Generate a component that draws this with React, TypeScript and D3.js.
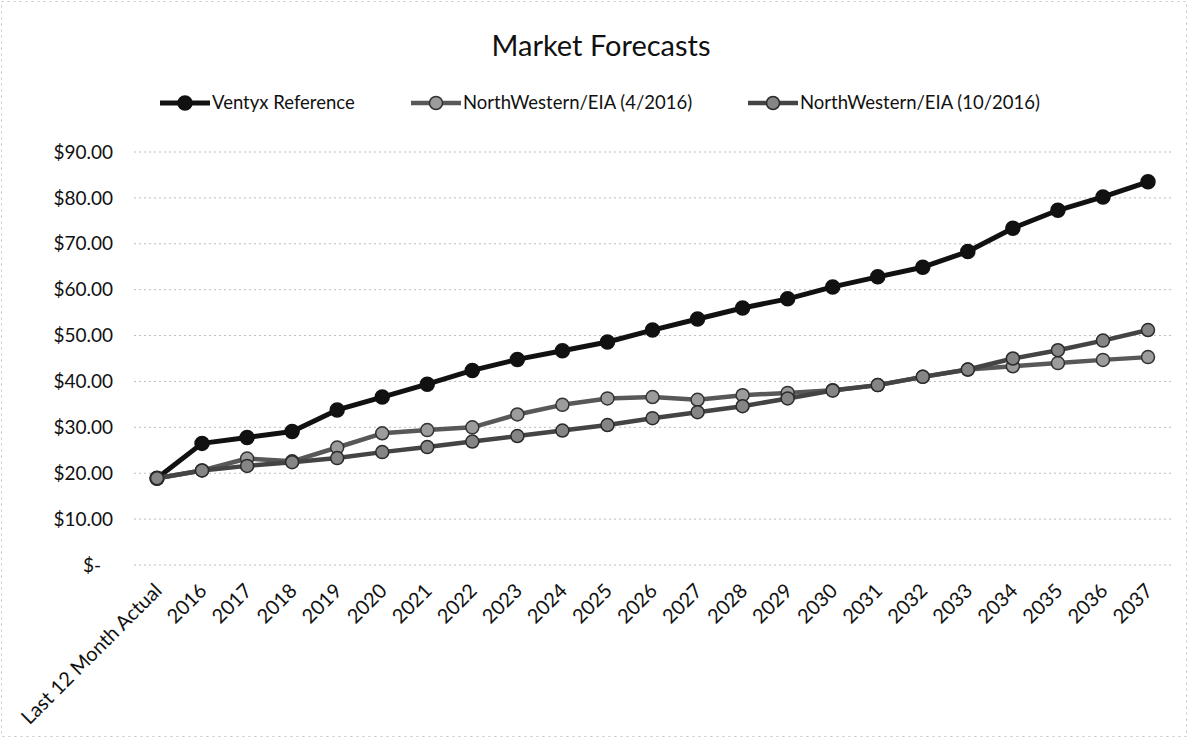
import React from 'react';
import * as d3 from 'd3';

// categories along the x axis
const categories = ['Last 12 Month Actual', '2016', '2017', '2018', '2019', '2020', '2021', '2022', '2023', '2024', '2025', '2026', '2027', '2028', '2029', '2030', '2031', '2032', '2033', '2034', '2035', '2036', '2037'];

// series values ($)
const ventyx = [18.9, 26.5, 27.8, 29.1, 33.8, 36.6, 39.4, 42.4, 44.8, 46.7, 48.6, 51.2, 53.6, 56.0, 58.0, 60.6, 62.8, 64.9, 68.3, 73.4, 77.3, 80.2, 83.5];
const nw042016 = [18.9, 20.6, 23.2, 22.6, 25.6, 28.7, 29.4, 30.0, 32.8, 34.9, 36.3, 36.6, 36.0, 37.0, 37.5, 38.1, 39.2, 41.0, 42.6, 43.3, 44.0, 44.7, 45.3];
const nw102016 = [18.9, 20.6, 21.6, 22.4, 23.3, 24.6, 25.7, 26.9, 28.1, 29.3, 30.5, 32.0, 33.3, 34.6, 36.3, 38.0, 39.2, 41.0, 42.6, 45.0, 46.8, 48.9, 51.2];

const seriesNames = ['Ventyx Reference', 'NorthWestern/EIA (4/2016)', 'NorthWestern/EIA (10/2016)'];
const yTicks = [0, 10, 20, 30, 40, 50, 60, 70, 80, 90];

function App() {
  const parentRef = React.useRef<HTMLDivElement>(null);

  React.useEffect(() => {
    document.body.style.margin = '0';
    const width = 1188, height = 738;
    const root = d3.select(parentRef.current);
    root.selectAll('*').remove();

    const svg = root.append('svg')
      .attr('width', width)
      .attr('height', height)
      .style('display', 'block')
      .style('background', '#fff')
      .style('font-family', 'Lato, "Open Sans", sans-serif');

    // faint scanned border
    svg.append('rect')
      .attr('x', 1.5).attr('y', 1.5)
      .attr('width', width - 3).attr('height', height - 3)
      .attr('fill', 'none')
      .attr('stroke', '#c4c4c4')
      .attr('stroke-dasharray', '2,4');

    const x = d3.scalePoint<string>().domain(categories).range([157, 1148]);
    const y = d3.scaleLinear().domain([0, 90]).range([565, 152]);

    // title
    svg.append('text')
      .attr('x', 601).attr('y', 56)
      .attr('text-anchor', 'middle')
      .attr('font-size', 29)
      .attr('fill', '#111')
      .text('Market Forecasts');

    // gridlines
    svg.append('g')
      .selectAll('line')
      .data(yTicks)
      .enter()
      .append('line')
      .attr('x1', 134).attr('x2', 1171)
      .attr('y1', d => y(d)).attr('y2', d => y(d))
      .attr('stroke', '#bdbdbd')
      .attr('stroke-width', 1)
      .attr('stroke-dasharray', '2,3');

    // y labels
    svg.append('g')
      .selectAll('text')
      .data(yTicks)
      .enter()
      .append('text')
      .attr('x', d => d === 0 ? 101 : 113)
      .attr('y', d => y(d))
      .attr('dy', '0.35em')
      .attr('text-anchor', 'end')
      .attr('font-size', 19)
      .attr('fill', '#111')
      .text(d => d === 0 ? '$-' : '$' + d3.format('.2f')(d));

    // x labels
    svg.append('g')
      .selectAll('text')
      .data(categories)
      .enter()
      .append('text')
      .attr('transform', d => `translate(${(x(d) as number) + 6},592) rotate(-45)`)
      .attr('text-anchor', 'end')
      .attr('font-size', 20)
      .attr('fill', '#111')
      .text(d => d);

    const styles = [
      { line: '#111', width: 5, r: 7, fill: '#111', stroke: '#111' },
      { line: '#585858', width: 4.5, r: 6.5, fill: '#9c9c9c', stroke: '#333' },
      { line: '#444', width: 4.5, r: 6.5, fill: '#858585', stroke: '#2a2a2a' },
    ];
    const allSeries = [ventyx, nw042016, nw102016];

    const line = d3.line<number>()
      .x((_, i) => x(categories[i]) as number)
      .y(d => y(d));

    allSeries.forEach((vals, k) => {
      const s = styles[k];
      const g = svg.append('g');
      g.append('path')
        .datum(vals)
        .attr('d', line)
        .attr('fill', 'none')
        .attr('stroke', s.line)
        .attr('stroke-width', s.width)
        .attr('stroke-linejoin', 'round');
      g.selectAll('circle')
        .data(vals)
        .enter()
        .append('circle')
        .attr('cx', (_, i) => x(categories[i]) as number)
        .attr('cy', d => y(d))
        .attr('r', s.r)
        .attr('fill', s.fill)
        .attr('stroke', s.stroke)
        .attr('stroke-width', 1.5);
    });

    // legend
    const legendX = [160, 411, 748];
    const legend = svg.append('g');
    seriesNames.forEach((name, k) => {
      const s = styles[k];
      const lx = legendX[k];
      const ly = 103;
      legend.append('line')
        .attr('x1', lx).attr('x2', lx + 50)
        .attr('y1', ly).attr('y2', ly)
        .attr('stroke', s.line)
        .attr('stroke-width', s.width);
      legend.append('circle')
        .attr('cx', lx + 25).attr('cy', ly)
        .attr('r', s.r)
        .attr('fill', s.fill)
        .attr('stroke', s.stroke)
        .attr('stroke-width', 1.5);
      legend.append('text')
        .attr('x', lx + 52).attr('y', ly)
        .attr('dy', '0.35em')
        .attr('font-size', 18.5)
        .attr('fill', '#111')
        .text(name);
    });
  }, []);

  return <div ref={parentRef}></div>;
}

export default App;
